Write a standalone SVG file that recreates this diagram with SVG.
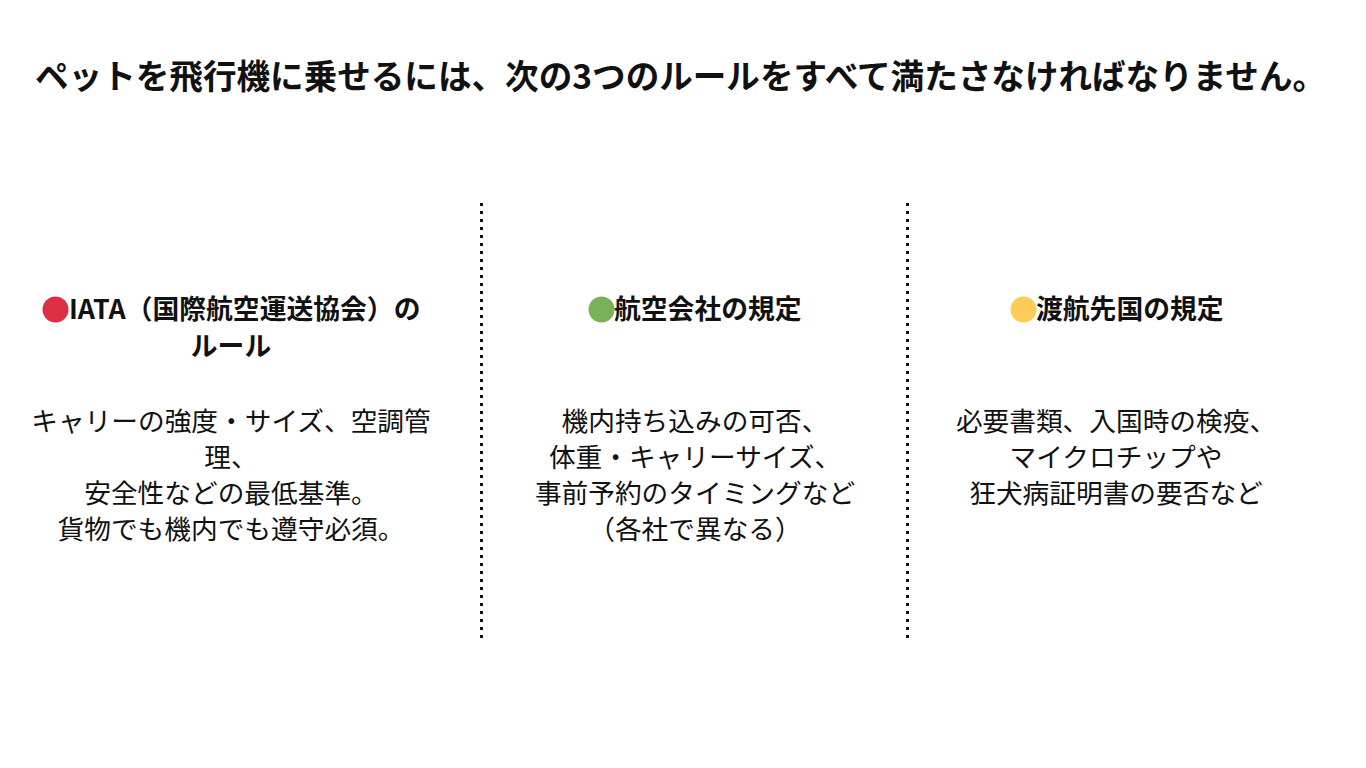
<svg xmlns="http://www.w3.org/2000/svg" width="1366" height="768" viewBox="0 0 1366 768">
<style>
.t{font-family:"Noto Sans CJK JP","Noto Sans",sans-serif;fill:#111;}
.title{font-size:33.6px;font-weight:700;}
.h{font-size:26.8px;font-weight:700;}
.b{font-size:26.7px;font-weight:400;text-anchor:middle;}
.div{stroke:#111;stroke-width:3;stroke-dasharray:3 5;fill:none;}
</style>
<rect width="1366" height="768" fill="#fff"/>
<text id="title" class="t title" x="35" y="89">ペットを飛行機に乗せるには、次の3つのルールをすべて満たさなければなりません。</text>
<g id="dividers">
<line class="div" x1="481.5" y1="203" x2="481.5" y2="638"/>
<line class="div" x1="907.5" y1="203" x2="907.5" y2="638"/>
</g>
<g id="col-iata">
<circle cx="55.5" cy="309.5" r="13" fill="#DD2E44"/>
<text class="t h" x="69" y="319">IATA（国際航空運送協会）の</text>
<text class="t h" x="231" y="356" text-anchor="middle">ルール</text>
<text class="t b" x="231" y="431">キャリーの強度・サイズ、空調管</text>
<text class="t b" x="231" y="467">理、</text>
<text class="t b" x="231" y="503">安全性などの最低基準。</text>
<text class="t b" x="231" y="539">貨物でも機内でも遵守必須。</text>
</g>
<g id="col-airline">
<circle cx="601.5" cy="309.5" r="13" fill="#78B159"/>
<text class="t h" x="614" y="319">航空会社の規定</text>
<text class="t b" x="695" y="431">機内持ち込みの可否、</text>
<text class="t b" x="695" y="467">体重・キャリーサイズ、</text>
<text class="t b" x="695" y="503">事前予約のタイミングなど</text>
<text class="t b" x="695" y="539">（各社で異なる）</text>
</g>
<g id="col-country">
<circle cx="1023.5" cy="309.5" r="13" fill="#FDCB58"/>
<text class="t h" x="1036" y="319">渡航先国の規定</text>
<text class="t b" x="1116" y="431">必要書類、入国時の検疫、</text>
<text class="t b" x="1116" y="467">マイクロチップや</text>
<text class="t b" x="1116" y="503">狂犬病証明書の要否など</text>
</g>
</svg>
